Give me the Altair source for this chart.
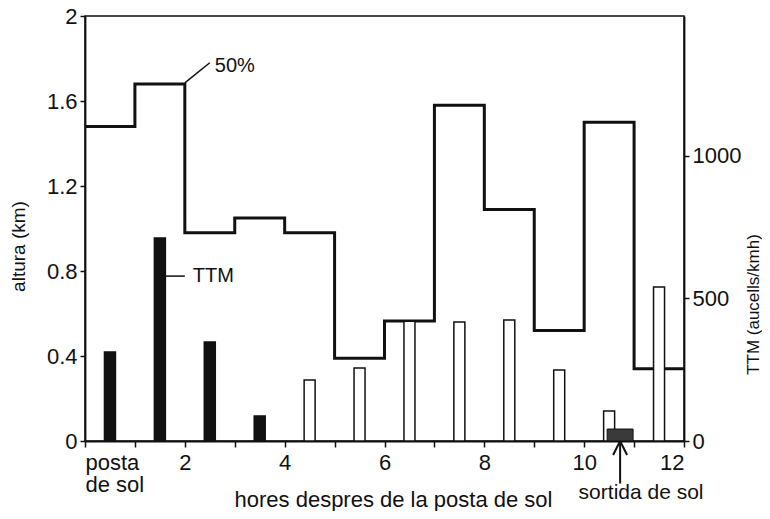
import altair as alt
import pandas as pd

# --- data ---
hora_inici = [0, 1, 2, 3, 4, 5, 6, 7, 8, 9, 10, 11]
altura_50 = [1.48, 1.68, 0.98, 1.05, 0.98, 0.39, 0.565, 1.58, 1.09, 0.52, 1.50, 0.34]
hora_final = 12

ttm_hora = [0.5, 1.5, 2.5, 3.5, 4.5, 5.5, 6.5, 7.5, 8.5, 9.5, 10.5, 11.5]
ttm_valor = [312, 712, 347, 88, 214, 256, 420, 417, 424, 249, 105, 540]
ttm_tipus = ["fosc", "fosc", "fosc", "fosc", "clar", "clar", "clar", "clar",
             "clar", "clar", "clar", "clar"]

sortida_inici = [10.46]
sortida_fi = [10.98]
sortida_valor = [42]

x_ticks = list(range(13))
y_left_ticks = [0, 0.4, 0.8, 1.2, 1.6, 2]
y_right_ticks = [0, 500, 1000]

FONT = "Liberation Sans"
INK = "#111111"

step_df = pd.DataFrame({"hora": hora_inici + [hora_final],
                        "altura": altura_50 + [altura_50[-1]]})
bars_df = pd.DataFrame({"hora": ttm_hora, "ttm": ttm_valor, "tipus": ttm_tipus})
sort_df = pd.DataFrame({"x1": sortida_inici, "x2": sortida_fi, "v": sortida_valor})

# annotation anchors (data units)
ann_lines = pd.DataFrame({
    "x": [2.0, 1.6],
    "y": [1.685, 0.776],
    "x2": [2.5, 2.0],
    "y2": [1.78, 0.776],
})
ann_text = pd.DataFrame({
    "x": [2.6, 2.16],
    "y": [1.765, 0.776],
    "t": ["50%", "TTM"],
})
arrow_df = pd.DataFrame({"x": [10.72], "y": [-0.2], "y2": [-0.012], "yh": [-0.033]})
sortida_txt = pd.DataFrame({"x": [11.14], "y": [-0.275], "t": ["sortida de sol"]})

xscale = alt.Scale(domain=[0, 12], nice=False, padding=0)
yleft = alt.Scale(domain=[0, 2], nice=False)
yright = alt.Scale(domain=[0, 1490], nice=False, padding=0)

x_axis = alt.Axis(
    values=x_ticks,
    labelExpr="datum.value == 0 ? ['posta', 'de sol'] : (datum.value % 2 == 0 ? datum.label : '')",
    title="hores despres de la posta de sol", titleFontSize=22,
    titleX=308, titleY=65, titleAlign="center", titleBaseline="alphabetic",
    tickSize=6, labelPadding=5, labelLineHeight=22,
)

step = alt.Chart(step_df).mark_line(
    interpolate="step-after", color=INK, strokeWidth=3, strokeJoin="miter"
).encode(
    x=alt.X("hora:Q", scale=xscale, axis=x_axis),
    y=alt.Y("altura:Q", scale=yleft, axis=alt.Axis(
        values=y_left_ticks, format="~g", title="altura (km)", titleFontSize=19,
        titleX=-67, titleY=230, titleBaseline="middle", titleAlign="center",
        tickSize=5, labelPadding=3, titleColor=INK,
    )),
)

lines = alt.Chart(ann_lines).mark_rule(color=INK, strokeWidth=1.5).encode(
    x="x:Q", y="y:Q", x2="x2:Q", y2="y2:Q"
)
texts = alt.Chart(ann_text).mark_text(
    align="left", baseline="middle", font=FONT, fontSize=20, color=INK
).encode(x="x:Q", y="y:Q", text="t:N")

arrow_shaft = alt.Chart(arrow_df).mark_rule(color=INK, strokeWidth=2).encode(
    x="x:Q", y="y:Q", y2="y2:Q"
)
arrow_head = alt.Chart(arrow_df).mark_point(
    shape="M-1,1L0,-1L1,1", filled=False, stroke=INK, strokeWidth=2, size=196, opacity=1
).encode(x="x:Q", y="yh:Q")
sortida_label = alt.Chart(sortida_txt).mark_text(
    align="center", baseline="alphabetic", font=FONT, fontSize=21, color=INK
).encode(x="x:Q", y="y:Q", text="t:N")

left_layer = alt.layer(step, lines, texts, arrow_shaft, arrow_head, sortida_label)

bars = alt.Chart(bars_df).mark_bar(orient="vertical", size=11, stroke=INK, strokeWidth=1.5).encode(
    x=alt.X("hora:Q", scale=xscale),
    y=alt.Y("ttm:Q", scale=yright, axis=alt.Axis(
        orient="right", values=y_right_ticks, format="d",
        title="TTM (aucells/kmh)", titleAngle=270, titleFontSize=17, titleColor=INK,
        titleX=69, titleY=288, titleBaseline="middle", titleAlign="center",
        tickSize=5, labelPadding=3,
    )),
    fill=alt.Fill("tipus:N", scale=alt.Scale(domain=["fosc", "clar"], range=[INK, "white"]),
                  legend=None),
)
sortida_block = alt.Chart(sort_df).mark_rect(fill="#3a3a3a", stroke=INK, strokeWidth=1).encode(
    x=alt.X("x1:Q", scale=xscale), x2="x2:Q",
    y=alt.Y("v:Q", scale=yright), y2=alt.datum(0),
)

right_layer = alt.layer(bars, sortida_block)

chart = alt.layer(left_layer, right_layer).resolve_scale(y="independent").properties(
    width=599, height=425,
    autosize=alt.AutoSizeParams(type="none"),
    padding={"left": 77, "top": 8, "right": 78, "bottom": 70},
    background="white",
).configure_view(
    stroke=INK, strokeWidth=1.5
).configure_axis(
    domainColor=INK, domainWidth=1.8, tickColor=INK, tickWidth=1.5,
    labelFont=FONT, labelFontSize=22, labelColor=INK,
    titleFont=FONT, titleFontSize=20, titleColor=INK, titleFontWeight="normal",
    grid=False,
)

chart.save("out.html", embed_options={"renderer": "svg", "actions": False})
